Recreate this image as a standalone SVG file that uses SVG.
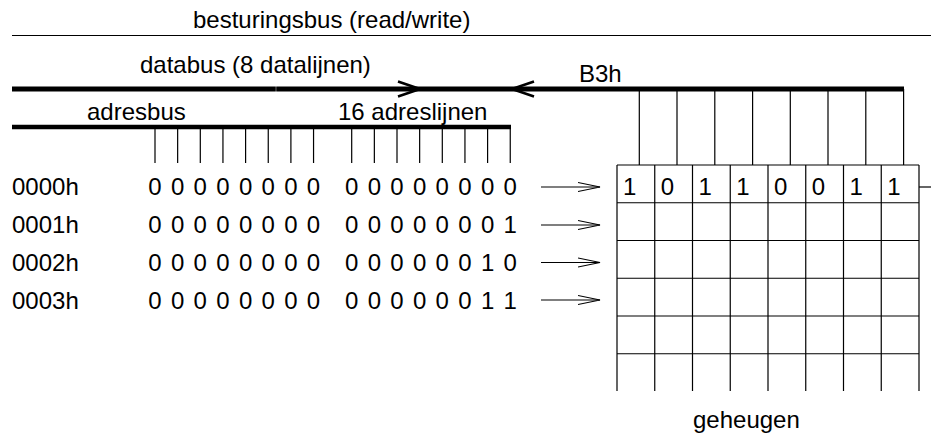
<svg xmlns="http://www.w3.org/2000/svg" width="931" height="438" viewBox="0 0 931 438">
  <style>
    text { font-family: "Liberation Sans", Arial, Helvetica, sans-serif; font-size: 24px; fill: #000; }
    .digits { text-anchor: middle; }
    .thin { stroke: #000; stroke-width: 1.2; fill: none; }
    .bus-data { stroke: #000; stroke-width: 5; fill: none; }
    .bus-addr { stroke: #000; stroke-width: 4.5; fill: none; }
    .chevron { stroke: #000; stroke-width: 2.6; fill: none; stroke-linecap: butt; stroke-linejoin: miter; }
    .arrow { stroke: #000; stroke-width: 1.2; fill: none; }
  </style>
  <defs>
    <marker id="open-head" viewBox="0 0 24 12" refX="22" refY="6" markerWidth="24" markerHeight="12" markerUnits="userSpaceOnUse" orient="auto">
      <path d="M0,1.5 L22,6 L0,10.5" fill="none" stroke="#000" stroke-width="1.2"/>
    </marker>
  </defs>

  <!-- control bus -->
  <g id="control-bus">
    <line class="thin" x1="12" y1="35.5" x2="931" y2="35.5"/>
    <text x="193" y="28">besturingsbus (read/write)</text>
  </g>

  <!-- data bus with direction marks and the B3h value -->
  <g id="data-bus">
    <line class="bus-data" x1="12" y1="89" x2="275.8" y2="89"/>
    <line class="bus-data" x1="276.2" y1="89" x2="904" y2="89"/>
    <path class="chevron" d="M398,81.5 L420,89 L398,96.5"/>
    <path class="chevron" d="M534,81.5 L512,89 L534,96.5"/>
    <text x="140" y="73">databus (8 datalijnen)</text>
    <text x="579" y="81.5">B3h</text>
    <!-- eight data lines down to the memory row -->
    <path class="thin" d="M639.3,89V165 M677,89V165 M714.8,89V165 M752.6,89V165 M790.3,89V165 M828,89V165 M865.8,89V165 M903.6,89V165"/>
  </g>

  <!-- address bus with sixteen address lines -->
  <g id="address-bus">
    <line class="bus-addr" x1="12" y1="127" x2="511" y2="127"/>
    <text x="87" y="120">adresbus</text>
    <text x="338" y="120">16 adreslijnen</text>
    <path class="thin" d="M155,127V163 M177.65,127V163 M200.3,127V163 M222.95,127V163 M245.6,127V163 M268.25,127V163 M290.9,127V163 M313.55,127V163 M351.7,127V163 M374.35,127V163 M397,127V163 M419.65,127V163 M442.3,127V163 M464.95,127V163 M487.6,127V163 M510.25,127V163"/>
  </g>

  <!-- addresses in hex and binary -->
  <g id="address-0000h">
    <text x="12" y="195">0000h</text>
    <text class="digits" x="155 166.33 177.65 188.98 200.3 211.63 222.95 234.28 245.6 256.93 268.25 279.58 290.9 302.23 313.55" y="195">0 0 0 0 0 0 0 0</text>
    <text class="digits" x="351.7 363.03 374.35 385.68 397 408.33 419.65 430.98 442.3 453.63 464.95 476.28 487.6 498.93 510.25" y="195">0 0 0 0 0 0 0 0</text>
  </g>
  <g id="address-0001h">
    <text x="12" y="233">0001h</text>
    <text class="digits" x="155 166.33 177.65 188.98 200.3 211.63 222.95 234.28 245.6 256.93 268.25 279.58 290.9 302.23 313.55" y="233">0 0 0 0 0 0 0 0</text>
    <text class="digits" x="351.7 363.03 374.35 385.68 397 408.33 419.65 430.98 442.3 453.63 464.95 476.28 487.6 498.93 510.25" y="233">0 0 0 0 0 0 0 1</text>
  </g>
  <g id="address-0002h">
    <text x="12" y="271">0002h</text>
    <text class="digits" x="155 166.33 177.65 188.98 200.3 211.63 222.95 234.28 245.6 256.93 268.25 279.58 290.9 302.23 313.55" y="271">0 0 0 0 0 0 0 0</text>
    <text class="digits" x="351.7 363.03 374.35 385.68 397 408.33 419.65 430.98 442.3 453.63 464.95 476.28 487.6 498.93 510.25" y="271">0 0 0 0 0 0 1 0</text>
  </g>
  <g id="address-0003h">
    <text x="12" y="309">0003h</text>
    <text class="digits" x="155 166.33 177.65 188.98 200.3 211.63 222.95 234.28 245.6 256.93 268.25 279.58 290.9 302.23 313.55" y="309">0 0 0 0 0 0 0 0</text>
    <text class="digits" x="351.7 363.03 374.35 385.68 397 408.33 419.65 430.98 442.3 453.63 464.95 476.28 487.6 498.93 510.25" y="309">0 0 0 0 0 0 1 1</text>
  </g>

  <!-- memory: 8 columns, open at the bottom -->
  <g id="memory">
    <path class="thin" d="M617,165V391 M654.75,165V391 M692.5,165V391 M730.25,165V391 M768,165V391 M805.75,165V391 M843.5,165V391 M881.25,165V391 M919,165V391"/>
    <path class="thin" d="M617,165H919 M617,202.75H919 M617,240.5H919 M617,278.25H919 M617,316H919 M617,353.75H919"/>
    <text x="623" y="195">1</text>
    <text x="660.75" y="195">0</text>
    <text x="698.5" y="195">1</text>
    <text x="736.25" y="195">1</text>
    <text x="774" y="195">0</text>
    <text x="811.75" y="195">0</text>
    <text x="849.5" y="195">1</text>
    <text x="887.25" y="195">1</text>
    <line class="thin" x1="919" y1="187" x2="931" y2="187"/>
    <text x="693" y="428">geheugen</text>
  </g>

  <!-- address selection arrows -->
  <g id="connectors">
    <line class="arrow" x1="541" y1="187" x2="600" y2="187" marker-end="url(#open-head)"/>
    <line class="arrow" x1="541" y1="225" x2="600" y2="225" marker-end="url(#open-head)"/>
    <line class="arrow" x1="541" y1="262.5" x2="600" y2="262.5" marker-end="url(#open-head)"/>
    <line class="arrow" x1="541" y1="300" x2="600" y2="300" marker-end="url(#open-head)"/>
  </g>
</svg>
